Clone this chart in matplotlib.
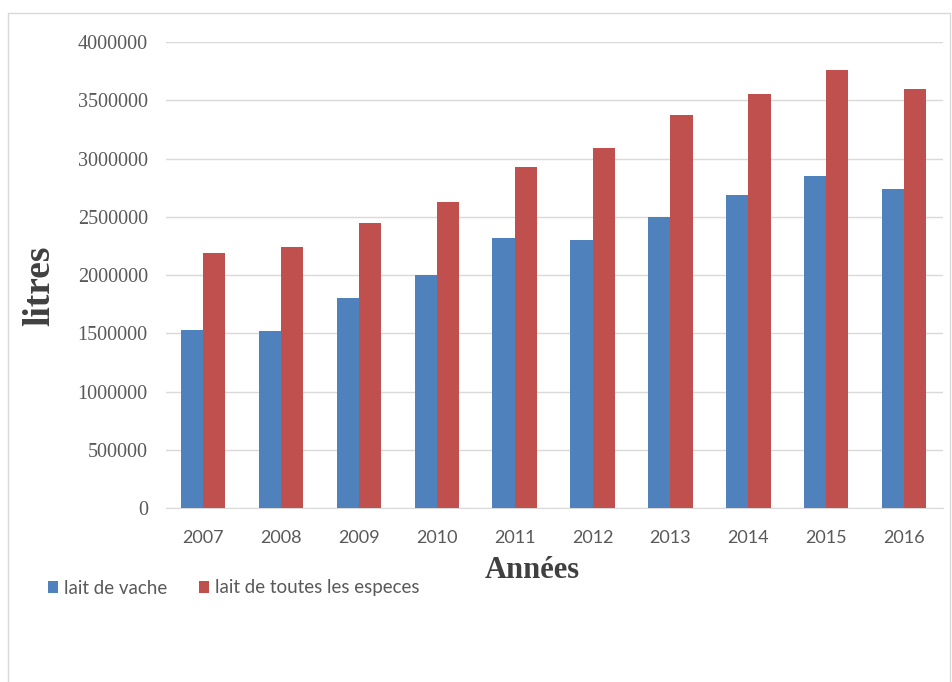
import matplotlib.pyplot as plt
import matplotlib.patches as mpatches
import numpy as np

years = ["2007", "2008", "2009", "2010", "2011", "2012", "2013", "2014", "2015", "2016"]
lait_vache = [1530000, 1520000, 1800000, 2000000, 2320000, 2300000, 2500000, 2690000, 2850000, 2740000]
lait_toutes = [2190000, 2240000, 2450000, 2630000, 2930000, 3090000, 3370000, 3550000, 3760000, 3600000]
yticks = [0, 500000, 1000000, 1500000, 2000000, 2500000, 3000000, 3500000, 4000000]

blue = "#4F81BD"
red = "#C0504D"
grey = "#595959"

fig = plt.figure(figsize=(9.53, 6.82), dpi=100)
ax = fig.add_axes([0.174, 0.2551, 0.8155, 0.6833])

# outer chart frame
fig.patches.append(mpatches.Rectangle((8 / 953, -0.01), 942 / 953, 1.01 - 13 / 682,
                                      transform=fig.transFigure, fill=False,
                                      edgecolor="#D9D9D9", linewidth=1))

x = np.arange(len(years))
w = 0.285
ax.bar(x - w / 2, lait_vache, w, color=blue, label="lait de vache", zorder=3)
ax.bar(x + w / 2, lait_toutes, w, color=red, label="lait de toutes les especes", zorder=3)

ax.set_xlim(-0.48, 9.5)
ax.set_ylim(0, 4000000)
ax.set_yticks(yticks)
ax.set_yticklabels([str(v) for v in yticks], family="Liberation Serif", fontsize=14.5, color=grey)
ax.set_xticks(x)
ax.set_xticklabels(years, family="Lato", fontsize=13, color=grey)
ax.tick_params(axis="both", length=0)
ax.tick_params(axis="y", pad=13)
ax.tick_params(axis="x", pad=16)

ax.grid(axis="y", color="#D9D9D9", linewidth=1, zorder=0)
for s in ["top", "right", "left"]:
    ax.spines[s].set_visible(False)
ax.spines["bottom"].set_color("#D9D9D9")

fig.text(40 / 953, 1 - 286 / 682, "litres", rotation=90, ha="center", va="center",
         family="Liberation Serif", fontweight="bold", fontsize=27, color="#404040")
fig.text(532 / 953, 1 - 570 / 682, "Années", ha="center", va="center",
         family="Liberation Serif", fontweight="bold", fontsize=22, color="#404040")

leg = fig.legend(loc="center left", bbox_to_anchor=(31 / 953, 1 - 588 / 682), ncol=2,
                 frameon=False, prop={"family": "Lato", "size": 13.5},
                 handlelength=0.55, handleheight=0.55, handletextpad=0.3, columnspacing=1.7)
for t in leg.get_texts():
    t.set_color(grey)

fig.savefig("out.png", dpi=100)
